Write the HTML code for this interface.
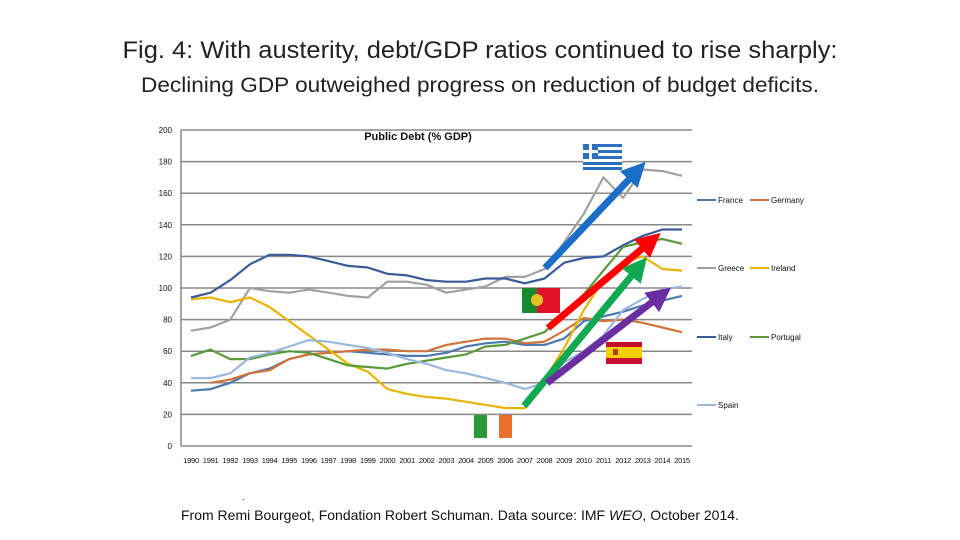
<!DOCTYPE html>
<html><head><meta charset="utf-8"><style>
body{margin:0;background:#fff;width:960px;height:540px;overflow:hidden;font-family:"Liberation Sans",sans-serif}
svg{position:absolute;left:0;top:0}
</style></head><body>
<svg id="c" width="960" height="540">
<text x="480" y="58" font-size="24" text-anchor="middle" fill="#222" textLength="715" lengthAdjust="spacingAndGlyphs">Fig. 4: With austerity, debt/GDP ratios continued to rise sharply:</text>
<text x="480" y="92" font-size="21" text-anchor="middle" fill="#222" textLength="678" lengthAdjust="spacingAndGlyphs">Declining GDP outweighed progress on reduction of budget deficits.</text>
<text x="418" y="140" font-size="11" font-weight="bold" text-anchor="middle" fill="#111">Public Debt (% GDP)</text>
<text x="181" y="520" font-size="14" fill="#111">From Remi Bourgeot, Fondation Robert Schuman.  Data source: IMF <tspan font-style="italic">WEO</tspan>, October 2014.</text>
<text x="242" y="500" font-size="9" fill="#111">.</text>
<g id="grid"></g><g id="lines"></g><g id="legend"></g><g id="deco"></g>
</svg>
<script>
const years=[1990,1991,1992,1993,1994,1995,1996,1997,1998,1999,2000,2001,2002,2003,2004,2005,2006,2007,2008,2009,2010,2011,2012,2013,2014,2015];
const yTicks=[0,20,40,60,80,100,120,140,160,180,200];
const france=[35,36,40,46,49,55,58,59,60,59,58,57,57,59,63,65,66,64,64,68,79,82,85,89,92,95];
const germany=[null,40,42,46,48,55,58,59,60,61,61,60,60,64,66,68,68,65,66,73,81,79,80,78,75,72];
const greece=[73,75,80,100,98,97,99,97,95,94,104,104,102,97,99,101,107,107,112,129,147,170,157,175,174,171];
const ireland=[93,94,91,94,88,79,70,61,52,47,36,33,31,30,28,26,24,24,42,62,86,105,116,120,112,111];
const italy=[94,97,105,115,121,121,120,117,114,113,109,108,105,104,104,106,106,103,106,116,119,120,127,133,137,137];
const portugal=[57,61,55,55,58,60,59,55,51,50,49,52,54,56,58,63,64,68,72,84,96,111,126,129,131,128];
const spain=[43,43,46,56,59,63,67,66,64,62,59,55,52,48,46,43,40,36,40,53,60,70,86,93,99,101];
const seriesNames=["France","Germany","Greece","Ireland","Italy","Portugal","Spain"];
const seriesData=[france,germany,greece,ireland,italy,portugal,spain];
const colors=["#4a7ab0","#d2733a","#a0a0a0","#e8b400","#3a5a9a","#5a9a3a","#9ab8dc"];
const NS="http://www.w3.org/2000/svg";
const X=i=>191+i*(682-191)/25, Y=v=>446-v*1.58;
function mk(t,a,p){const e=document.createElementNS(NS,t);for(const k in a)e.setAttribute(k,a[k]);p.appendChild(e);return e;}
const g=document.getElementById('grid');
yTicks.forEach(v=>{
 const l=mk('line',{x1:181,x2:692,y1:Y(v),y2:Y(v),stroke:'#888','stroke-width':1.5},g);
 
 
 const t=mk('text',{x:172,y:Y(v)+3,'font-size':8,'text-anchor':'end',fill:'#111'},g);t.textContent=v;
 
 
});
mk('line',{x1:181,x2:181,y1:Y(200),y2:Y(0),stroke:'#888','stroke-width':1.5},g);
years.forEach((yr,i)=>{
 const t=mk('text',{x:X(i),y:463,'font-size':7.6,'text-anchor':'middle',fill:'#111','letter-spacing':'-0.3'},g);t.textContent=yr;
 
 
});
const L=document.getElementById('lines');
seriesData.forEach((d,s)=>{
 let p='';d.forEach((v,i)=>{if(v==null)return;p+=(p?'L':'M')+X(i).toFixed(1)+','+Y(v).toFixed(1);});
 const e=mk('path',{d:p,fill:'none',stroke:colors[s],'stroke-width':2.2,'stroke-linejoin':'round'},L);
 
 
});
const lg=document.getElementById('legend');
const lp=[[697,200],[750,200],[697,268],[750,268],[697,337],[750,337],[697,405]];
seriesNames.forEach((n,s)=>{
 const [x,y]=lp[s];
 mk('line',{x1:x,x2:x+19,y1:y,y2:y,stroke:colors[s],'stroke-width':2},lg);
 const t=mk('text',{x:x+21,y:y+3,'font-size':8,fill:'#111'},lg);t.textContent=n;
 
 
});
</script>
<svg width="960" height="540" style="position:absolute;left:0;top:0">
<defs>
<marker id="ab" markerWidth="3.5" markerHeight="3.5" refX="1.5" refY="1.75" orient="auto" markerUnits="strokeWidth"><path d="M0,0L3.5,1.75L0,3.5z" fill="#1a6ec8"/></marker>
<marker id="ar" markerWidth="3.5" markerHeight="3.5" refX="1.5" refY="1.75" orient="auto" markerUnits="strokeWidth"><path d="M0,0L3.5,1.75L0,3.5z" fill="#f00"/></marker>
<marker id="ag" markerWidth="3.5" markerHeight="3.5" refX="1.5" refY="1.75" orient="auto" markerUnits="strokeWidth"><path d="M0,0L3.5,1.75L0,3.5z" fill="#10a850"/></marker>
<marker id="ap" markerWidth="3.5" markerHeight="3.5" refX="1.5" refY="1.75" orient="auto" markerUnits="strokeWidth"><path d="M0,0L3.5,1.75L0,3.5z" fill="#6a2ea0"/></marker>
</defs>
<line x1="545" y1="268" x2="636" y2="172" stroke="#1a6ec8" stroke-width="7" marker-end="url(#ab)"/>
<line x1="548" y1="328" x2="650" y2="242" stroke="#f00" stroke-width="7" marker-end="url(#ar)"/>
<line x1="524" y1="406" x2="638" y2="268" stroke="#10a850" stroke-width="7" marker-end="url(#ag)"/>
<line x1="547" y1="383" x2="660" y2="296" stroke="#6a2ea0" stroke-width="7" marker-end="url(#ap)"/>
<g>
<rect x="583" y="144" width="39" height="26" fill="#fff"/>
<rect x="583" y="144" width="39" height="3" fill="#2a6fc0"/><rect x="583" y="150" width="39" height="3" fill="#2a6fc0"/><rect x="583" y="156" width="39" height="3" fill="#2a6fc0"/><rect x="583" y="162" width="39" height="3" fill="#2a6fc0"/><rect x="583" y="167" width="39" height="3" fill="#2a6fc0"/>
<rect x="583" y="144" width="15" height="15" fill="#2a6fc0"/><rect x="589" y="144" width="3" height="15" fill="#fff"/><rect x="583" y="150" width="15" height="3" fill="#fff"/>
</g>
<g><rect x="522" y="288" width="15" height="25" fill="#1a8a30"/><rect x="537" y="288" width="23" height="25" fill="#e0102a"/><circle cx="537" cy="300" r="6" fill="#e8c020"/></g>
<g><rect x="606" y="342" width="36" height="22" fill="#c8102e"/><rect x="606" y="347" width="36" height="11" fill="#f5d000"/><rect x="613" y="349" width="5" height="6" fill="#b04020"/></g>
<g><rect x="474" y="415" width="13" height="23" fill="#2a9a3a"/><rect x="499" y="415" width="13" height="23" fill="#e8702a"/></g>
</svg>
</body></html>
